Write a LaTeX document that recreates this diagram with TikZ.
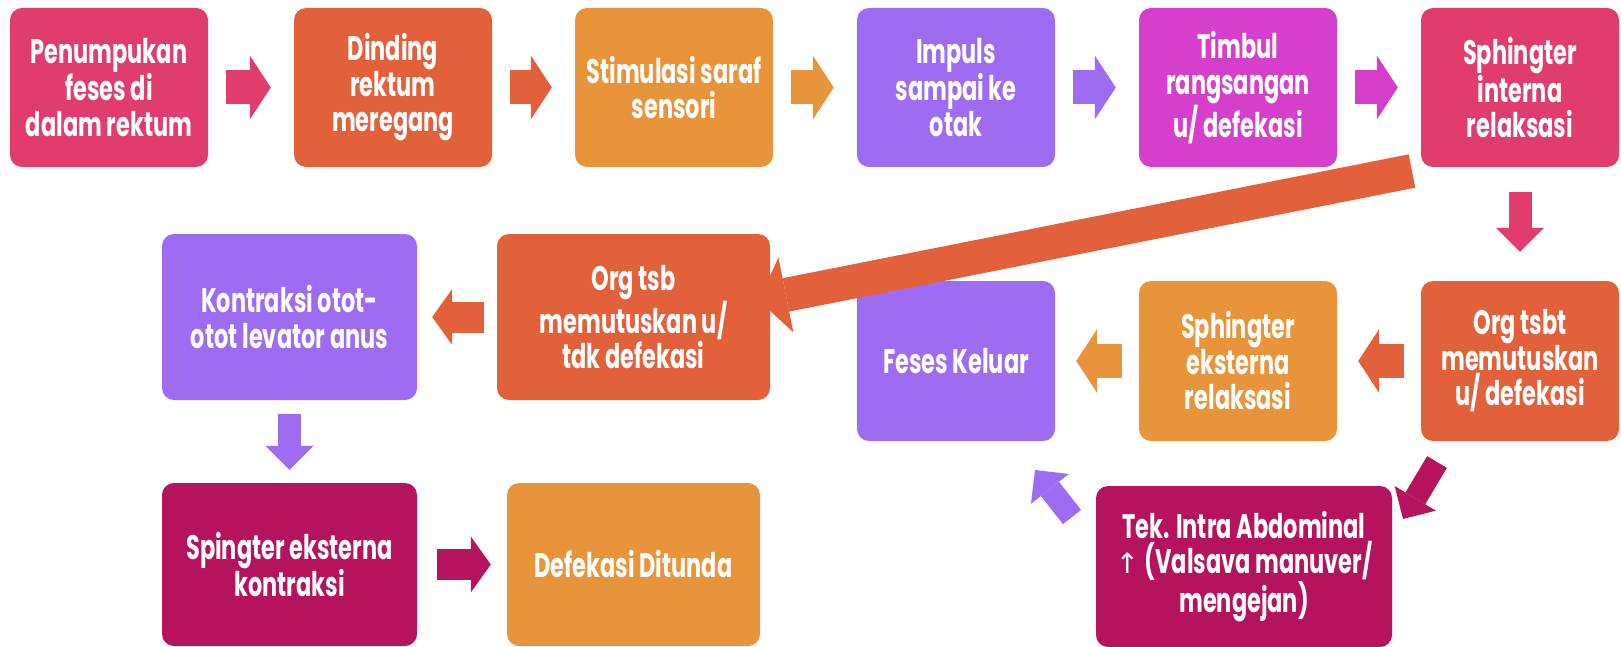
\documentclass[tikz,border=0pt]{standalone}
\usepackage{fontspec}
\setmainfont{Poppins}[FakeStretch=0.66]
\newfontfamily\symfont{DejaVu Sans}
\usetikzlibrary{arrows.meta}
\definecolor{cPink}{HTML}{E03C6E}
\definecolor{cRed}{HTML}{E2603A}
\definecolor{cOrange}{HTML}{E8943A}
\definecolor{cPurple}{HTML}{9D6CF0}
\definecolor{cMagenta}{HTML}{D63FCB}
\definecolor{cWine}{HTML}{B5135E}
\tikzset{
  box/.style={rounded corners=12pt, inner sep=0pt, align=center, text=white,
    font=\fontsize{34}{35.5}\selectfont\bfseries},
  stdbox/.style={box, minimum width=198pt, minimum height=159pt},
  bigarrow/.style={line width=34pt, -{Triangle[length=21pt,width=64pt,line width=0pt]}},
  midarrow/.style={line width=31pt, -{Triangle[length=20pt,width=56pt,line width=0pt]}},
  smallarrow/.style={line width=23pt, -{Triangle[length=24pt,width=48pt,line width=0pt]}},
  longarrow/.style={line width=34pt, -{Triangle[length=28pt,width=76pt,line width=0pt]}},
}
\begin{document}
\begin{tikzpicture}[x=1pt,y=-1pt]
\useasboundingbox (0,0) rectangle (1621,647);
% row 1
\node[stdbox, fill=cPink]    (n1) at (109,87.5)  {Penumpukan\\feses di\\dalam rektum};
\node[stdbox, fill=cRed]     (n2) at (393,87.5)  {Dinding\\rektum\\meregang};
\node[stdbox, fill=cOrange]  (n3) at (674,87.5)  {Stimulasi saraf\\sensori};
\node[stdbox, fill=cPurple]  (n4) at (956,87.5)  {Impuls\\sampai ke\\otak};
\node[stdbox, fill=cMagenta] (n5) at (1238,87.5) {Timbul\\rangsangan\\u/ defekasi};
\node[stdbox, fill=cPink]    (n6) at (1520,87.5) {Sphingter\\interna\\relaksasi};
% row 2 right
\node[stdbox, fill=cPurple, minimum height=160pt] (feses) at (956,361)  {Feses Keluar};
\node[stdbox, fill=cOrange, minimum height=160pt] (sext)  at (1238,361) {Sphingter\\eksterna\\relaksasi};
\node[stdbox, fill=cRed, minimum height=160pt]    (orgy)  at (1520,361) {Org tsbt\\memutuskan\\u/ defekasi};
% row 2 left
\node[box, fill=cPurple, minimum width=255pt, minimum height=166pt] (kontr) at (289.5,317) {Kontraksi otot-\\otot levator anus};
\node[box, fill=cRed, minimum width=273pt, minimum height=166pt]    (orgn)  at (633.5,317) {Org tsb\\memutuskan u/\\tdk defekasi};
% bottom
\node[box, fill=cWine, minimum width=255pt, minimum height=163pt]   (skon)  at (289.5,564.5) {Spingter eksterna\\kontraksi};
\node[box, fill=cOrange, minimum width=253pt, minimum height=163pt] (ditun) at (633.5,564.5) {Defekasi Ditunda};
\node[box, fill=cWine, minimum width=296pt, minimum height=161pt]   (tek)   at (1244,566.5) {Tek. Intra Abdominal\\{\symfont\fontsize{28}{35}\selectfont\mdseries ↑}\,(Valsava manuver/\\mengejan)};
% connectors row 1
\draw[bigarrow, cPink,    shorten <=18pt, shorten >=23pt] (n1) -- (n2);
\draw[bigarrow, cRed,     shorten <=18pt, shorten >=23pt] (n2) -- (n3);
\draw[bigarrow, cOrange,  shorten <=18pt, shorten >=23pt] (n3) -- (n4);
\draw[bigarrow, cPurple,  shorten <=18pt, shorten >=23pt] (n4) -- (n5);
\draw[bigarrow, cMagenta, shorten <=18pt, shorten >=23pt] (n5) -- (n6);
\draw[smallarrow, cPink,  shorten <=25pt, shorten >=29pt] (n6) -- (orgy);
% long arrow
\coordinate (ltail) at (1412,171);
\draw[longarrow, cRed, shorten >=-12pt] (ltail) -- (orgn.east |- 0,298);
% row 2
\draw[bigarrow, cRed,    shorten <=17pt, shorten >=21pt] (orgy) -- (sext);
\draw[bigarrow, cOrange, shorten <=17pt, shorten >=21pt] (sext) -- (feses);
\draw[midarrow, cRed,    shorten <=13pt, shorten >=15pt] (orgn) -- (kontr);
\draw[smallarrow, cPurple, shorten <=14pt, shorten >=13pt] (kontr) -- (skon);
\draw[midarrow, cWine,   shorten <=20pt, shorten >=16pt] (skon) -- (ditun);
% diagonals
\coordinate (d1t) at (1437,462);
\coordinate (d1h) at (1403,519);
\draw[smallarrow, cWine] (d1t) -- (d1h);
\coordinate (d2t) at (1072,517);
\coordinate (d2h) at (1035,470);
\draw[smallarrow, cPurple] (d2t) -- (d2h);
\end{tikzpicture}
\end{document}
